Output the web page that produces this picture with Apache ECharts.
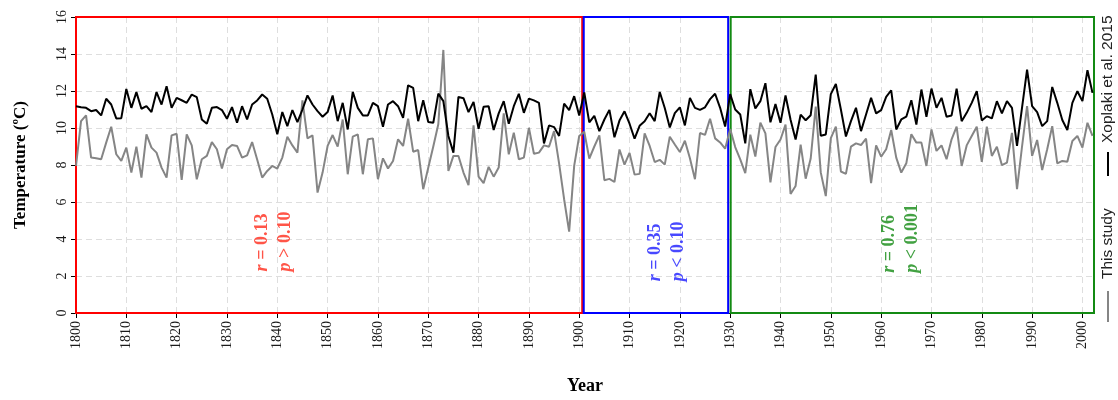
<!DOCTYPE html>
<html>
<head>
<meta charset="utf-8">
<script src="https://cdn.jsdelivr.net/npm/echarts@6/dist/echarts.min.js"></script>
<style>html,body{margin:0;padding:0;background:#fff}#c{width:1118px;height:400px}</style>
</head>
<body>
<div id="c"></div>
<script>
// ---------------- data ----------------
const firstYear = 1800;
// Xoplaki et al. 2015 (black), 1800-2002
const xoplaki = [
  11.18, 11.12, 11.09, 10.91, 10.97, 10.68, 11.58, 11.27, 10.52, 10.53,
  12.11, 11.09, 11.94, 11.04, 11.18, 10.86, 11.94, 11.27, 12.26, 11.09,
  11.63, 11.50, 11.36, 11.81, 11.67, 10.46, 10.23, 11.09, 11.13, 10.97,
  10.50, 11.13, 10.28, 11.18, 10.46, 11.27, 11.49, 11.81, 11.58, 10.73,
  9.66, 10.86, 10.10, 10.97, 10.32, 11.00, 11.76, 11.27, 10.91, 10.61,
  10.86, 11.76, 10.37, 11.36, 9.92, 11.95, 11.09, 10.68, 10.68, 11.36,
  11.18, 10.07, 11.27, 11.45, 11.18, 10.55, 12.31, 12.17, 10.37, 11.50,
  10.32, 10.28, 11.86, 11.45, 9.57, 8.67, 11.68, 11.61, 10.86, 11.41,
  9.96, 11.15, 11.18, 9.89, 10.79, 11.45, 10.23, 11.18, 11.85, 10.82,
  11.59, 11.49, 11.36, 9.17, 10.14, 10.05, 9.57, 11.32, 10.97, 11.72,
  10.68, 11.92, 10.30, 10.66, 9.83, 10.46, 10.98, 9.50, 10.40, 10.90,
  10.23, 9.42, 10.12, 10.36, 10.80, 10.37, 11.95, 11.08, 10.03, 10.80,
  11.12, 10.14, 11.63, 11.09, 10.98, 11.12, 11.56, 11.85, 11.09, 10.08,
  11.83, 11.00, 10.73, 9.17, 12.10, 11.06, 11.45, 12.42, 10.31, 11.29,
  10.28, 11.76, 10.45, 9.38, 10.72, 10.42, 10.69, 12.89, 9.58, 9.65,
  11.83, 12.38, 11.00, 9.54, 10.37, 11.09, 9.83, 10.73, 11.63, 10.79,
  10.97, 11.68, 12.04, 9.92, 10.46, 10.61, 11.50, 10.19, 12.08, 10.61,
  12.13, 11.09, 11.63, 10.61, 10.68, 12.13, 10.37, 10.82, 11.36, 11.99,
  10.41, 10.64, 10.52, 11.45, 10.79, 11.45, 11.09, 9.03, 11.10, 13.16,
  11.18, 10.86, 10.10, 10.37, 12.22, 11.36, 10.43, 9.89, 11.36, 11.99,
  11.45, 13.12, 11.90
];
// This study (grey), 1800-2002
const thisStudy = [
  7.95, 10.37, 10.68, 8.40, 8.36, 8.31, 9.21, 10.07, 8.58, 8.22,
  8.94, 7.59, 8.99, 7.32, 9.66, 8.94, 8.67, 7.86, 7.32, 9.60,
  9.69, 7.20, 9.66, 9.06, 7.23, 8.31, 8.49, 9.24, 8.85, 7.81,
  8.85, 9.08, 9.03, 8.40, 8.52, 9.24, 8.30, 7.32, 7.68, 7.95,
  7.81, 8.40, 9.53, 9.06, 8.67, 11.49, 9.44, 9.60, 6.51, 7.59,
  9.03, 9.62, 8.99, 10.46, 7.50, 9.53, 9.66, 7.50, 9.39, 9.44,
  7.23, 8.36, 7.81, 8.22, 9.39, 9.03, 10.50, 8.72, 8.81, 6.69,
  7.85, 9.00, 10.20, 14.22, 7.68, 8.49, 8.49, 7.59, 6.91, 10.14,
  7.37, 7.02, 7.90, 7.37, 7.86, 10.79, 8.58, 9.75, 8.31, 8.40,
  10.01, 8.61, 8.67, 9.06, 8.99, 9.83, 8.09, 6.15, 4.40, 7.95,
  9.57, 9.80, 8.35, 9.00, 9.60, 7.18, 7.25, 7.08, 8.84, 8.02,
  8.65, 7.48, 7.52, 9.71, 9.03, 8.16, 8.28, 8.02, 9.53, 9.11,
  8.70, 9.31, 8.37, 7.23, 9.73, 9.63, 10.50, 9.44, 9.22, 8.88,
  9.95, 8.97, 8.30, 7.56, 9.64, 8.46, 10.29, 9.71, 7.06, 8.97,
  9.38, 10.18, 6.43, 6.87, 9.10, 7.26, 8.35, 11.16, 7.60, 6.32,
  9.45, 10.07, 7.65, 7.52, 8.99, 9.17, 9.08, 9.42, 7.02, 9.06,
  8.45, 8.85, 9.89, 8.40, 7.59, 8.09, 9.66, 9.21, 9.21, 7.95,
  9.92, 8.76, 9.06, 8.31, 9.39, 10.07, 7.95, 9.06, 9.57, 10.07,
  8.17, 10.07, 8.49, 8.99, 7.99, 8.13, 9.74, 6.69, 9.00, 11.18,
  8.49, 9.35, 7.73, 8.85, 10.10, 8.09, 8.22, 8.17, 9.30, 9.57,
  8.94, 10.28, 9.57
];
const xTicks = [1800,1810,1820,1830,1840,1850,1860,1870,1880,1890,1900,1910,1920,1930,1940,1950,1960,1970,1980,1990,2000];
const yTicks = [0,2,4,6,8,10,12,14,16];
// calibration periods (years) and their statistics
const periodFrom = [1800, 1900.9, 1930.1];
const periodTo   = [1900.6, 1929.6, 2002.3];
const periodR    = ['0.13', '0.35', '0.76'];
const periodP    = ['> 0.10', '< 0.10', '< 0.001'];
const seriesNames = ['This study', 'Xoplaki et al. 2015'];

// ---------------- chart ----------------
const chart = echarts.init(document.getElementById('c'), null, {renderer: 'canvas'});
const years = xoplaki.map((_, i) => firstYear + i);
const serif = 'Liberation Serif';
const sans = 'Liberation Sans';
const boxColors = ['#ff0000', '#0000ff', '#138a13'];
const textColors = ['#ff2a1a', '#1a1aff', '#138a13'];
// annotation anchor (year, temperature) for each period label
const annoAt = [[1839.4, 2.25], [1917.5, 1.72], [1964.0, 2.18]];

const grid = {left: 76, right: 24, top: 17, bottom: 86.5};

const option = {
  animation: false,
  backgroundColor: '#fff',
  grid: grid,
  xAxis: {
    type: 'value', min: 1800, max: 2002.3,
    axisLine: {show: true, onZero: false, lineStyle: {color: '#000', width: 1}},
    axisTick: {show: true, customValues: xTicks, length: 5, lineStyle: {color: '#000'}},
    axisLabel: {customValues: xTicks, rotate: 90, margin: 8, fontFamily: serif, fontSize: 14, color: '#1a1a1a',
                formatter: v => String(v)},
    splitLine: {show: true, lineStyle: {color: '#dedede', type: [6, 4], width: 1}},
    name: 'Year', nameLocation: 'middle', nameGap: 64,
    nameTextStyle: {fontFamily: serif, fontWeight: 'bold', fontSize: 18, color: '#000'}
  },
  yAxis: {
    type: 'value', min: 0, max: 16, interval: 2,
    axisLine: {show: true, onZero: false, lineStyle: {color: '#000', width: 1}},
    axisTick: {show: true, length: 5, lineStyle: {color: '#000'}},
    axisLabel: {customValues: yTicks, rotate: 90, margin: 7, fontFamily: serif, fontSize: 14, color: '#1a1a1a',
                formatter: v => String(v)},
    splitLine: {show: true, lineStyle: {color: '#dedede', type: [6, 4], width: 1}},
    name: 'Temperature (\u00BAC)', nameLocation: 'middle', nameGap: 47, nameRotate: 90,
    nameTextStyle: {fontFamily: serif, fontWeight: 'bold', fontSize: 17, color: '#000'}
  },
  series: [
    {
      name: seriesNames[0], type: 'line', showSymbol: false, symbol: 'none', z: 2,
      lineStyle: {color: '#858585', width: 2}, itemStyle: {color: '#858585'},
      data: years.map((y, i) => [y, thisStudy[i]]),
      markArea: {
        silent: true,
        data: periodFrom.map((f, i) => [
          {xAxis: f, yAxis: 0, itemStyle: {color: 'rgba(0,0,0,0)', borderColor: boxColors[i], borderWidth: 2}},
          {xAxis: periodTo[i], yAxis: 16}
        ])
      }
    },
    {
      name: seriesNames[1], type: 'line', showSymbol: false, symbol: 'none', z: 3,
      lineStyle: {color: '#000', width: 2}, itemStyle: {color: '#000'},
      data: years.map((y, i) => [y, xoplaki[i]])
    },
    {
      type: 'scatter', symbolSize: 0, silent: true, z: 5,
      data: annoAt.map((a, i) => ({
        value: a,
        label: {
          color: textColors[i],
          rich: {
            n: {fontFamily: serif, fontWeight: 'bold', fontSize: 18, color: textColors[i], lineHeight: 23},
            i: {fontFamily: serif, fontWeight: 'bold', fontStyle: 'italic', fontSize: 18, color: textColors[i], lineHeight: 23}
          },
          formatter: '{i|r}{n| = ' + periodR[i] + '}\n{i|p}{n| ' + periodP[i] + '}'
        }
      })),
      label: {
        show: true, position: 'inside', rotate: 90, align: 'left', verticalAlign: 'middle',
        fontFamily: serif, fontWeight: 'bold', fontSize: 18, lineHeight: 23
      }
    }
  ],
  graphic: [
    {type: 'line', shape: {x1: 1108, y1: 322, x2: 1108, y2: 291}, style: {stroke: '#858585', lineWidth: 2}, silent: true},
    {type: 'text', x: 1108, y: 279, rotation: Math.PI / 2,
     style: {text: seriesNames[0], fontFamily: sans, fontSize: 15.5, fill: '#222', align: 'left', verticalAlign: 'middle'}},
    {type: 'line', shape: {x1: 1108, y1: 176, x2: 1108, y2: 152}, style: {stroke: '#000', lineWidth: 2}, silent: true},
    {type: 'text', x: 1108, y: 143, rotation: Math.PI / 2,
     style: {text: seriesNames[1], fontFamily: sans, fontSize: 15.5, fill: '#222', align: 'left', verticalAlign: 'middle'}}
  ]
};
chart.setOption(option);
</script>
</body>
</html>
